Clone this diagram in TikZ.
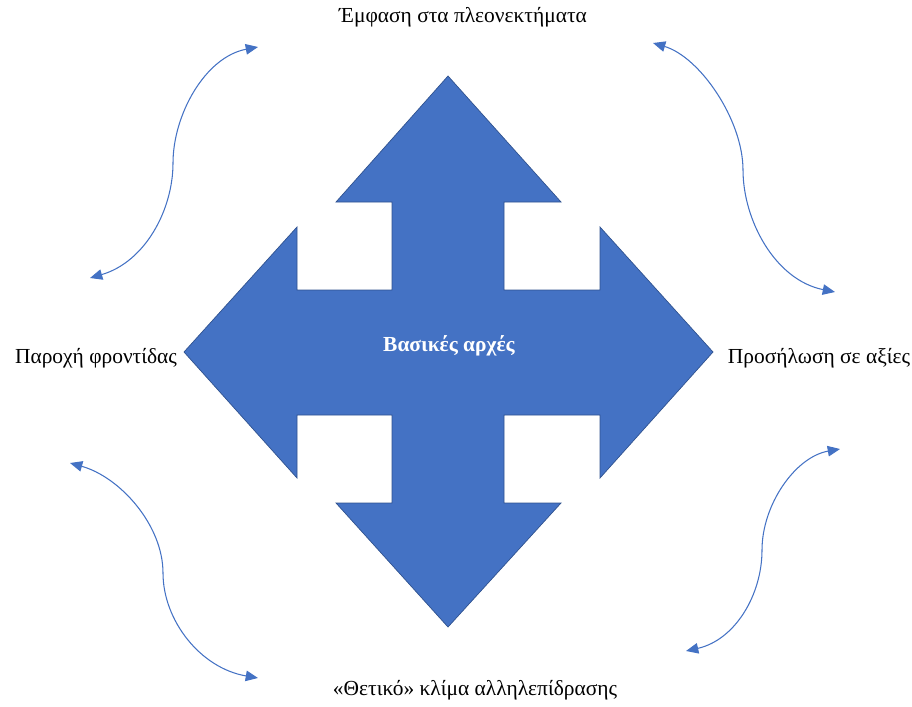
\documentclass[tikz,border=0pt]{standalone}
\usepackage{fontspec}
\setmainfont{Liberation Serif}
\usetikzlibrary{arrows.meta}
\definecolor{accblue}{HTML}{4472C4}
\definecolor{accdark}{HTML}{2F528F}
\begin{document}
\begin{tikzpicture}[x=0.02cm,y=-0.02cm,font=\fontsize{12.2}{14}\selectfont,inner sep=1pt,
  link/.style={accblue,line width=0.6pt,
    {Triangle[length=7pt,width=6pt]}-{Triangle[length=7pt,width=6pt]}}]
\useasboundingbox (0,0) rectangle (912,706);
% four-way arrow
\fill[accblue,draw=accdark,line width=0.4pt] (448,76) -- (561,202) -- (504,202) -- (504,290)
  -- (600,290) -- (600,227) -- (713,352) -- (600,478) -- (600,415) -- (504,415)
  -- (504,503) -- (561,503) -- (448,627) -- (336,503) -- (392,503) -- (392,415)
  -- (297,415) -- (297,478) -- (184,352) -- (297,227) -- (297,290) -- (392,290)
  -- (392,202) -- (336,202) -- cycle;
\node[white,font=\fontsize{12.2}{14}\selectfont\bfseries] (core) at (449,346) {Βασικές αρχές};
\node (top) at (463,17) {Έμφαση στα πλεονεκτήματα};
\node (left) at (96,358) {Παροχή φροντίδας};
\node (right) at (819,358) {Προσήλωση σε αξίες};
\node (bottom) at (475,690) {«Θετικό» κλίμα αλληλεπίδρασης};
% curved links
\foreach \A/\D/\E in {{90,278}/{258,47}/tl, {653,43}/{835,292}/tr,
  {70,463}/{258,678}/bl, {840,449}/{686,651}/br}
{\coordinate (\E a) at (\A); \coordinate (\E b) at (\D);}
\draw[link] (tla) .. controls (145,262) and (173,210) .. (173,163)
  .. controls (173,115) and (205,57) .. (tlb);
\draw[link] (tra) .. controls (700,57) and (743,120) .. (743,170)
  .. controls (743,220) and (775,280) .. (trb);
\draw[link] (bla) .. controls (120,477) and (163,525) .. (163,573)
  .. controls (163,620) and (200,668) .. (blb);
\draw[link] (bra) .. controls (795,457) and (762,505) .. (762,550)
  .. controls (762,595) and (735,640) .. (brb);
\end{tikzpicture}
\end{document}
